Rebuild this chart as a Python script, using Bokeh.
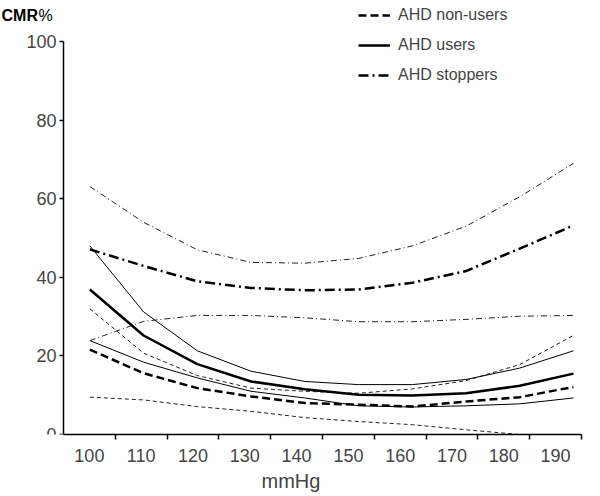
from bokeh.plotting import figure
from bokeh.models import (Range1d, LinearAxis, FixedTicker, Legend, LegendItem, Label)
from bokeh.embed import file_html
from bokeh.resources import INLINE

# ---- data ----
sbp = [100, 110, 120, 130, 140, 150, 160, 170, 180, 190]
tick_labels = ["100", "110", "120", "130", "140", "150", "160", "170", "180", "190"]

nonusers = [21.6, 15.6, 11.8, 9.7, 8.0, 7.6, 7.1, 8.4, 9.5, 12.1]
nonusers_hi = [32.0, 20.7, 15.0, 11.8, 11.0, 10.5, 11.6, 13.7, 17.8, 25.2]
nonusers_lo_x = [100, 110, 120, 130, 140, 150, 160, 170, 180]
nonusers_lo = [9.5, 8.8, 7.1, 5.9, 4.3, 3.3, 2.5, 1.2, 0.0]

users = [36.9, 25.2, 17.9, 13.5, 11.5, 10.1, 9.9, 10.5, 12.4, 15.5]
users_hi = [48.0, 31.2, 21.3, 16.1, 13.5, 12.7, 12.7, 14.0, 16.9, 21.3]
users_lo = [23.9, 18.4, 14.4, 11.0, 9.3, 7.3, 7.0, 7.3, 7.8, 9.3]

stoppers = [47.1, 42.9, 39.0, 37.3, 36.7, 36.9, 38.6, 41.6, 47.3, 53.2]
stoppers_hi = [63.1, 54.0, 47.0, 43.8, 43.6, 44.8, 48.0, 53.0, 60.5, 69.0]
stoppers_lo = [23.9, 28.8, 30.3, 30.3, 29.7, 28.7, 28.7, 29.3, 30.1, 30.3]

y_ticks = [0, 20, 40, 60, 80, 100]

FONT = "Liberation Sans"
X0 = 95.1   # data x where the y axis line sits

# The frame covers the top and left edges so that the legend and the "CMR%"
# title (which lie outside the axes box) are not clipped; the axes are
# bounded so that their lines span only the 0..100 / category region.
p = figure(width=600, height=496, output_backend="svg", toolbar_location=None,
           x_range=Range1d(83.37, 191.5), y_range=Range1d(0, 110.45),
           min_border_left=0, min_border_right=19, min_border_top=0, min_border_bottom=62,
           x_axis_location=None)
p.outline_line_color = None
p.xgrid.visible = False
p.ygrid.visible = False
p.background_fill_color = "white"
p.border_fill_color = "white"

# x axis (categories centred between boundary ticks)
p.extra_x_ranges = {"lab": Range1d(82.84, 195)}
bounds = [v + 5 for v in sbp]
xaxis = LinearAxis(x_range_name="lab",
                   ticker=FixedTicker(ticks=sbp, minor_ticks=bounds),
                   major_label_overrides={v: s for v, s in zip(sbp, tick_labels)},
                   axis_label="mmHg", bounds=(95, 195))
xaxis.major_tick_line_color = None
xaxis.minor_tick_line_color = "black"
xaxis.minor_tick_line_width = 1.5
xaxis.minor_tick_in = 0
xaxis.minor_tick_out = 5
xaxis.axis_line_width = 1.5
xaxis.major_label_text_font = FONT
xaxis.major_label_text_font_size = "18px"
xaxis.major_label_standoff = 8
xaxis.axis_label_text_font = FONT
xaxis.axis_label_text_font_size = "20px"
xaxis.axis_label_text_font_style = "normal"
xaxis.axis_label_standoff = 5
p.add_layout(xaxis, "below")

yaxis = p.yaxis[0]
yaxis.fixed_location = X0
yaxis.ticker = FixedTicker(ticks=y_ticks, minor_ticks=[])
yaxis.bounds = (0, 100)
yaxis.major_tick_in = 0
yaxis.major_tick_out = 4
yaxis.major_tick_line_width = 1.5
yaxis.axis_line_width = 1.5
yaxis.major_label_text_font = FONT
yaxis.major_label_text_font_size = "18px"
yaxis.major_label_standoff = 3

# confidence interval lines
p.line(sbp, nonusers_hi, line_color="#222222", line_width=1, line_dash="4 3")
p.line(nonusers_lo_x, nonusers_lo, line_color="#222222", line_width=1, line_dash="4 3")
p.line(sbp, users_hi, line_color="black", line_width=1)
p.line(sbp, users_lo, line_color="black", line_width=1)
p.line(sbp, stoppers_hi, line_color="#222222", line_width=1, line_dash="6 3 1 3")
p.line(sbp, stoppers_lo, line_color="#222222", line_width=1, line_dash="6 3 1 3")

# main curves
r_non = p.line(sbp, nonusers, line_color="black", line_width=2.5, line_dash="8 4")
r_use = p.line(sbp, users, line_color="black", line_width=2.5)
r_stop = p.line(sbp, stoppers, line_color="black", line_width=2.5, line_dash="10 4 2 4")

legend = Legend(items=[LegendItem(label="AHD non-users", renderers=[r_non]),
                       LegendItem(label="AHD users", renderers=[r_use]),
                       LegendItem(label="AHD stoppers", renderers=[r_stop])],
                location=(358, 350), orientation="vertical",
                glyph_width=32, glyph_height=16, label_height=16,
                label_standoff=8, spacing=12, padding=0, margin=0,
                border_line_color=None, background_fill_alpha=0,
                label_text_font=FONT, label_text_font_size="16px")
p.add_layout(legend)

# y-axis title at the top left ("CMR" bold, "%" regular)
p.add_layout(Label(x=1, y=419, x_units="screen", y_units="screen", text="CMR",
                   text_font=FONT, text_font_size="16px", text_font_style="bold",
                   text_color="black", text_baseline="alphabetic"))
p.add_layout(Label(x=38, y=419, x_units="screen", y_units="screen", text="%",
                   text_font=FONT, text_font_size="16px", text_font_style="normal",
                   text_color="black", text_baseline="alphabetic"))

open("out.html", "w").write(file_html(p, INLINE))
